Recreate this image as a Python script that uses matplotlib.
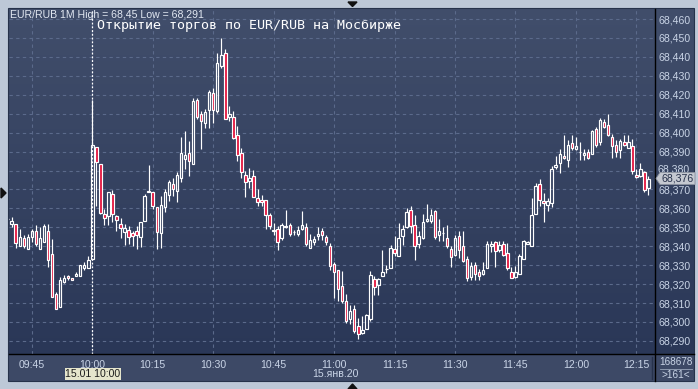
import matplotlib
matplotlib.use('Agg')
import matplotlib.pyplot as plt
import numpy as np
from matplotlib.lines import Line2D
from matplotlib.patches import Rectangle, Polygon
from matplotlib.colors import LinearSegmentedColormap

plt.rcParams['font.family'] = ['Liberation Sans', 'DejaVu Sans']

# EUR/RUB, 1-minute candles, 15 Jan 2020 from 09:39 to 12:18
start_minute = 9 * 60 + 39
opens = [68.3544, 68.352, 68.352, 68.340, 68.3445, 68.3385, 68.345, 68.348, 68.3385, 68.342,
         68.348, 68.3357, 68.315, 68.308, 68.321, 68.3245, 68.3235, 68.3243, 68.3245, 68.3287,
         68.3287, 68.3335, 68.3926, 68.3837, 68.357, 68.3558, 68.3675, 68.3558, 68.3516, 68.3477,
         68.3484, 68.347, 68.348, 68.3447, 68.3535, 68.3684, 68.3684, 68.3605, 68.3468, 68.3605,
         68.367, 68.3728, 68.3693, 68.3763, 68.3863, 68.3895, 68.3837, 68.4175, 68.4096, 68.4053,
         68.4119, 68.4207, 68.4114, 68.4354, 68.4421, 68.4084, 68.4084, 68.3986, 68.3895, 68.3775,
         68.3742, 68.3772, 68.3654, 68.3646, 68.3646, 68.3567, 68.3482, 68.3491, 68.3444, 68.3504,
         68.3514, 68.3474, 68.3463, 68.3491, 68.3502, 68.3391, 68.3423, 68.3453, 68.3482, 68.3447,
         68.3404, 68.3304, 68.3277, 68.3189, 68.3111, 68.3014, 68.3067, 68.2979, 68.294, 68.2965,
         68.3018, 68.3225, 68.3193, 68.3242, 68.3278, 68.3284, 68.3385, 68.3351, 68.3452, 68.3502,
         68.3594, 68.3511, 68.3412, 68.3443, 68.3532, 68.3532, 68.3585, 68.3461, 68.3469, 68.3443,
         68.3385, 68.3355, 68.3452, 68.3399, 68.3334, 68.3236, 68.3302, 68.3263, 68.3252, 68.3284,
         68.3399, 68.3422, 68.3378, 68.3413, 68.3364, 68.3263, 68.3236, 68.3252, 68.3332, 68.3412,
         68.3399, 68.3571, 68.3729, 68.3641, 68.3618, 68.3627, 68.3817, 68.3839, 68.3879, 68.3856,
         68.3945, 68.3914, 68.3896, 68.3883, 68.3896, 68.3888, 68.4017, 68.3953, 68.4056, 68.4038,
         68.3976, 68.3936, 68.3909, 68.3948, 68.392, 68.3932, 68.3778, 68.3773, 68.3791, 68.3708]
highs = [68.3548, 68.3555, 68.352, 68.349, 68.346, 68.3465, 68.349, 68.351, 68.350, 68.352,
         68.352, 68.3437, 68.316, 68.324, 68.325, 68.325, 68.3235, 68.3265, 68.330, 68.3318,
         68.335, 68.4172, 68.3926, 68.3837, 68.3597, 68.3684, 68.3696, 68.3565, 68.3547, 68.3517,
         68.3509, 68.3482, 68.3509, 68.3526, 68.3675, 68.3828, 68.3684, 68.3605, 68.3667, 68.3702,
         68.3751, 68.3763, 68.3793, 68.3977, 68.4009, 68.3956, 68.4184, 68.4184, 68.4114, 68.4123,
         68.4223, 68.4237, 68.4421, 68.450, 68.4442, 68.414, 68.4114, 68.4035, 68.3921, 68.3798,
         68.3812, 68.3804, 68.3702, 68.3672, 68.3646, 68.3575, 68.3523, 68.3509, 68.3523, 68.3593,
         68.3523, 68.3488, 68.3505, 68.3584, 68.3523, 68.3465, 68.3456, 68.3502, 68.3496, 68.3461,
         68.3418, 68.3316, 68.3277, 68.3268, 68.3146, 68.3088, 68.3088, 68.3019, 68.3032, 68.304,
         68.3268, 68.3242, 68.3233, 68.3379, 68.330, 68.3408, 68.3452, 68.3523, 68.3514, 68.3603,
         68.3611, 68.3567, 68.3479, 68.3571, 68.3624, 68.3597, 68.3594, 68.3544, 68.350, 68.3514,
         68.3399, 68.3461, 68.3479, 68.3479, 68.3346, 68.3319, 68.3319, 68.3279, 68.3319, 68.3426,
         68.3426, 68.3426, 68.3429, 68.3429, 68.3417, 68.3293, 68.3296, 68.3361, 68.3435, 68.3429,
         68.3656, 68.3735, 68.3756, 68.368, 68.3655, 68.3826, 68.3879, 68.3914, 68.399, 68.3959,
         68.399, 68.3976, 68.395, 68.3914, 68.3914, 68.4015, 68.4029, 68.4079, 68.4073, 68.410,
         68.3994, 68.3959, 68.3968, 68.3985, 68.399, 68.3968, 68.3808, 68.3839, 68.380, 68.3773]
lows = [68.3542, 68.350, 68.339, 68.340, 68.339, 68.3385, 68.342, 68.340, 68.3385, 68.342,
        68.329, 68.3134, 68.307, 68.308, 68.3207, 68.322, 68.322, 68.3243, 68.3245, 68.3277,
        68.3287, 68.333, 68.3615, 68.357, 68.351, 68.351, 68.3526, 68.3482, 68.3442, 68.3407,
        68.3412, 68.3404, 68.3386, 68.3395, 68.3535, 68.3684, 68.3596, 68.3386, 68.339, 68.3582,
        68.364, 68.3667, 68.3635, 68.3737, 68.3807, 68.3772, 68.3837, 68.407, 68.3916, 68.4026,
        68.4026, 68.4053, 68.4105, 68.4342, 68.4074, 68.4061, 68.3965, 68.3851, 68.3763, 68.3658,
        68.3707, 68.3658, 68.361, 68.361, 68.3491, 68.3491, 68.3461, 68.3382, 68.3435, 68.3496,
        68.3456, 68.3461, 68.3453, 68.3488, 68.340, 68.3391, 68.3409, 68.3432, 68.3435, 68.3409,
        68.3274, 68.3128, 68.3111, 68.3102, 68.2993, 68.2988, 68.294, 68.291, 68.2935, 68.2965,
        68.3005, 68.314, 68.3142, 68.3242, 68.3261, 68.3284, 68.335, 68.3346, 68.3408, 68.3496,
        68.347, 68.3328, 68.339, 68.3438, 68.3527, 68.3523, 68.3438, 68.3426, 68.3429, 68.339,
        68.3293, 68.335, 68.3337, 68.3315, 68.3218, 68.3222, 68.3222, 68.3222, 68.3248, 68.3284,
        68.3372, 68.3293, 68.3372, 68.335, 68.3272, 68.3231, 68.3231, 68.3252, 68.3332, 68.341,
        68.3399, 68.357, 68.3614, 68.3526, 68.3588, 68.3605, 68.381, 68.3785, 68.3862, 68.3817,
        68.3906, 68.3906, 68.3853, 68.3853, 68.3862, 68.3888, 68.3923, 68.3935, 68.4022, 68.398,
        68.3867, 68.3874, 68.3867, 68.393, 68.392, 68.3782, 68.3759, 68.3764, 68.3685, 68.3673]
closes = [68.3546, 68.3535, 68.3415, 68.345, 68.340, 68.345, 68.348, 68.341, 68.3445, 68.3505,
          68.333, 68.3134, 68.307, 68.322, 68.3233, 68.323, 68.3222, 68.3255, 68.330, 68.330,
          68.3326, 68.3935, 68.3847, 68.3574, 68.3547, 68.3684, 68.3568, 68.3539, 68.3495, 68.3495,
          68.3447, 68.3456, 68.346, 68.3526, 68.3663, 68.3693, 68.3614, 68.3477, 68.3617, 68.3684,
          68.3737, 68.3705, 68.3775, 68.3895, 68.3884, 68.3851, 68.4167, 68.4084, 68.4061, 68.4109,
          68.4214, 68.4119, 68.4368, 68.4412, 68.4074, 68.4096, 68.3974, 68.3881, 68.3793, 68.3737,
          68.376, 68.3658, 68.3632, 68.3632, 68.3567, 68.3505, 68.3486, 68.3421, 68.3514, 68.3506,
          68.3467, 68.3476, 68.3484, 68.3512, 68.3412, 68.3435, 68.3439, 68.3467, 68.3461, 68.3421,
          68.3295, 68.3263, 68.3175, 68.3111, 68.3005, 68.3058, 68.2953, 68.2935, 68.2956, 68.3035,
          68.3246, 68.3186, 68.3225, 68.3263, 68.328, 68.339, 68.3364, 68.3443, 68.3491, 68.358,
          68.3505, 68.3399, 68.3456, 68.3527, 68.3544, 68.3567, 68.3449, 68.3479, 68.347, 68.3399,
          68.3341, 68.3443, 68.3381, 68.3323, 68.3231, 68.3296, 68.3252, 68.3243, 68.3275, 68.3412,
          68.3412, 68.3376, 68.3408, 68.3355, 68.3284, 68.3231, 68.3266, 68.3346, 68.3426, 68.3422,
          68.3567, 68.3718, 68.3646, 68.3627, 68.3641, 68.3808, 68.383, 68.3888, 68.3867, 68.3936,
          68.392, 68.3932, 68.3898, 68.3892, 68.3867, 68.4008, 68.3937, 68.4065, 68.4029, 68.399,
          68.3929, 68.3897, 68.3955, 68.3937, 68.395, 68.3796, 68.3764, 68.3808, 68.3697, 68.3755]
x_tick_labels = ['09:45', '10:00', '10:15', '10:30', '10:45', '11:00',
                 '11:15', '11:30', '11:45', '12:00', '12:15']
last_price = 68.376

W, H = 698, 389
fig = plt.figure(figsize=(W / 100, H / 100), dpi=100)
fig.patch.set_facecolor('#bdc8d7')


def box(x0, y0, x1, y1):
    # pixel rectangle (origin top-left) -> figure fraction rect
    return [x0 / W, 1 - y1 / H, (x1 - x0) / W, (y1 - y0) / H]


def fx(x):
    return x / W


def fy(y):
    return 1 - y / H


bg = LinearSegmentedColormap.from_list('bg', ['#2a3757', '#414e6b'])
grad = np.linspace(0, 1, 256).reshape(-1, 1)
fs = 7.6

# bottom time-axis panel and right price-axis panel
axb = fig.add_axes(box(8, 354, 694, 381))
axb.set_facecolor('#3d4966')
axb.set_xticks([])
axb.set_yticks([])
for s in axb.spines.values():
    s.set_visible(False)

axr = fig.add_axes(box(655, 9, 694, 354))
axr.imshow(grad, origin='lower', aspect='auto', cmap=bg, extent=[0, 1, 0, 1])
axr.set_axis_off()

ax = fig.add_axes(box(9, 9, 655, 354))
x0, x1 = 579.33, 739.63
y0, y1 = 68.2831, 68.4653
ax.imshow(grad, origin='lower', aspect='auto', cmap=bg, extent=[x0, x1, y0, y1], zorder=0)
ax.set_xlim(x0, x1)
ax.set_ylim(y0, y1)
for s in ax.spines.values():
    s.set_visible(False)

o = np.array(opens)
h = np.array(highs)
l = np.array(lows)
c = np.array(closes)
t = start_minute + np.arange(len(o))

# grid
xt = np.arange(9 * 60 + 45, 12 * 60 + 16, 15)
yt = np.round(np.arange(68.29, 68.4605, 0.01), 2)
for v in xt:
    ax.axvline(v, color='#5b6a8b', lw=0.8, ls=(0, (3, 3)), zorder=1)
for v in yt:
    ax.axhline(v, color='#5b6a8b', lw=0.8, ls=(0, (3, 3)), zorder=1)

# candles
top = np.maximum(o, c)
bot = np.minimum(o, c)
ax.vlines(t, top, h, color='white', lw=0.85, zorder=3)
ax.vlines(t, l, bot, color='white', lw=0.85, zorder=3)
up = c >= o
body = np.where(np.abs(c - o) < 0.0002, 0.0002, c - o)
ax.bar(t[up], body[up], bottom=o[up], width=0.62, facecolor='none',
       edgecolor='white', linewidth=0.85, zorder=4)
ax.bar(t[~up], body[~up], bottom=o[~up], width=0.62, facecolor='#e3163f',
       edgecolor='white', linewidth=0.85, zorder=4)

# crosshair at 10:00
ax.axvline(600, color='white', lw=0.9, ls=(0, (1.5, 1.5)), zorder=5)

ax.set_xticks(xt)
ax.set_xticklabels(x_tick_labels)
ax.set_yticks(yt)
# the 68,380 label sits under the last-price tag, as in the original
ax.set_yticklabels(['' if abs(v - 68.38) < 1e-6 else f'{v:.3f}'.replace('.', ',') for v in yt])
ax.yaxis.tick_right()
ax.tick_params(axis='x', length=0, pad=4.5, labelsize=fs, labelcolor='#c9d4e6')
ax.tick_params(axis='y', length=0, pad=2.5, labelsize=fs, labelcolor='#c9d4e6')

# separators
fig.add_artist(Line2D([fx(9), fx(694)], [fy(354), fy(354)], color='black', lw=1))
fig.add_artist(Line2D([fx(655), fx(655)], [fy(9), fy(381)], color='black', lw=1))
fig.add_artist(Line2D([fx(651.5), fx(651.5)], [fy(357), fy(379)], color='#27324c', lw=1))
fig.add_artist(Line2D([fx(660), fx(692)], [fy(368.5), fy(368.5)], color='#9aa6ba', lw=0.6))
fig.add_artist(Rectangle((fx(8), fy(381)), (694 - 8) / W, (381 - 8) / H, fill=False,
                         edgecolor='#26324a', lw=0.8, transform=fig.transFigure))

# texts
fig.text(fx(10), fy(15), 'EUR/RUB 1M High = 68,45 Low = 68,291', fontsize=fs,
         color='#e2e8f2', va='center', ha='left')
fig.text(fx(97), fy(25), 'Открытие торгов по EUR/RUB на Мосбирже', fontsize=9.6,
         color='white', va='center', ha='left', family='DejaVu Sans Mono')
fig.text(fx(335), fy(374), '15.янв.20', fontsize=fs, color='#c9d4e6', ha='center', va='center')
fig.text(fx(676), fy(362), '168678', fontsize=7.2, color='#c9d4e6', ha='center', va='center')
fig.text(fx(676), fy(375), '>161<', fontsize=7.2, color='#c9d4e6', ha='center', va='center')

# crosshair date tag
fig.add_artist(Rectangle((fx(64.5), fy(380)), 56 / W, 12 / H, facecolor='#e5e5cc',
                         edgecolor='none', transform=fig.transFigure))
fig.text(fx(92.5), fy(374), '15.01 10:00', fontsize=fs, color='#1c1c1c', ha='center', va='center')

# last price tag, with the hidden 68,380 tick peeking out above it
fig.text(fx(658), fy(170), '68,380', fontsize=fs, color='#c9d4e6', ha='left', va='center')
tag = Polygon([(fx(656), fy(178.5)), (fx(660), fy(172.5)), (fx(695), fy(172.5)),
               (fx(695), fy(184.5)), (fx(660), fy(184.5))], closed=True,
              facecolor='#c4c8d0', edgecolor='#8c93a0', lw=0.6, transform=fig.transFigure,
              zorder=4)
fig.add_artist(tag)
fig.text(fx(662), fy(178.5), f'{last_price:.3f}'.replace('.', ','), fontsize=fs,
         color='#26304a', ha='left', va='center', zorder=5)

# small markers on the frame
fig.add_artist(Polygon([(fx(348), fy(2)), (fx(357), fy(2)), (fx(352.5), fy(6.5))],
                       closed=True, color='#111111', transform=fig.transFigure))
fig.add_artist(Polygon([(fx(1), fy(188)), (fx(1), fy(198)), (fx(6), fy(193))],
                       closed=True, color='#111111', transform=fig.transFigure))
fig.add_artist(Polygon([(fx(348), fy(389)), (fx(357), fy(389)), (fx(352.5), fy(384))],
                       closed=True, color='#111111', transform=fig.transFigure))

fig.savefig('out.png', dpi=100, facecolor=fig.get_facecolor())
